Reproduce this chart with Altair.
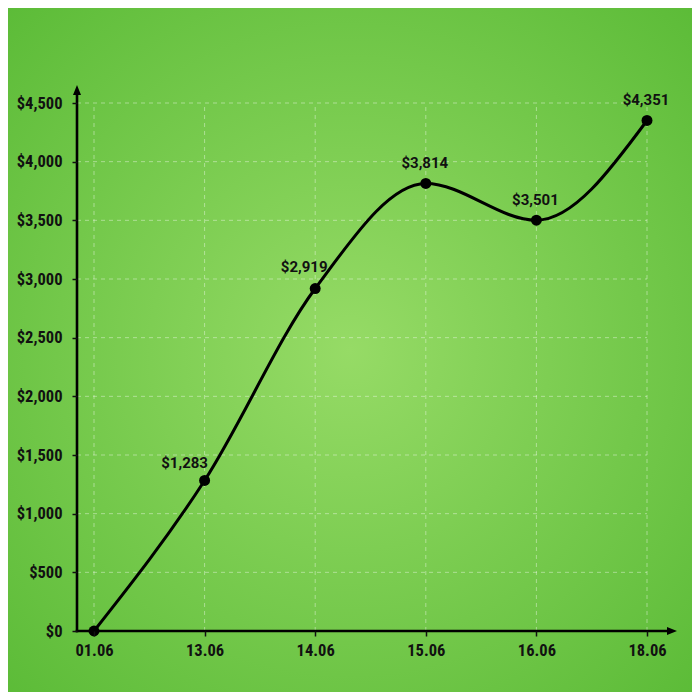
import altair as alt
import pandas as pd

dates = ["01.06", "13.06", "14.06", "15.06", "16.06", "18.06"]
values = [0, 1283, 2919, 3814, 3501, 4351]
y_ticks = [0, 500, 1000, 1500, 2000, 2500, 3000, 3500, 4000, 4500]

df = pd.DataFrame({"date": dates, "value": values})
ticks_df = pd.DataFrame({"v": y_ticks})
one = pd.DataFrame({"a": [0]})

W, H = 570, 528
PAD = {"left": 69, "top": 95, "right": 45, "bottom": 61}

AXIS_FONT = "Roboto Condensed, Liberation Sans Narrow, DejaVu Sans Condensed, Roboto"
LABEL_FONT = "Roboto"

xscale = alt.Scale(type="point", domain=dates, range=[17, W], padding=0)
yscale = alt.Scale(domain=[0, 4500], nice=False, zero=True)

x_axis = alt.Axis(
    title=None, grid=False, domain=False, ticks=True, tickSize=5, tickWidth=1.5,
    tickColor="#111111", labelFont=AXIS_FONT, labelFontSize=16.5, labelFontWeight="bold",
    labelColor="#111111", labelPadding=6, labelAngle=0, zindex=2,
)
y_axis = alt.Axis(
    title=None, grid=False, domain=False, ticks=True, tickSize=5, tickWidth=1.5,
    tickColor="#111111", labelFont=AXIS_FONT, labelFontSize=16.5, labelFontWeight="bold",
    labelColor="#111111", labelPadding=10, values=y_ticks, format="$,.0f", zindex=2,
)

X = alt.X("date:O", scale=xscale, axis=x_axis)
Y = alt.Y("value:Q", scale=yscale, axis=y_axis)

bg = alt.Chart(one).mark_rect(
    fill={
        "gradient": "radial",
        "x1": 0.5, "y1": 0.5, "r1": 0,
        "x2": 0.5, "y2": 0.5, "r2": 0.72,
        "stops": [
            {"offset": 0, "color": "#96db66"},
            {"offset": 1, "color": "#5bbb37"},
        ],
    }
).encode(
    x=alt.value(-PAD["left"]), x2=alt.value(W + PAD["right"]),
    y=alt.value(-PAD["top"]), y2=alt.value(H + PAD["bottom"]),
)

grid_style = dict(stroke="#ffffff", strokeOpacity=0.4, strokeWidth=1, strokeDash=[4, 4])

vgrid = alt.Chart(df).mark_rule(**grid_style).encode(
    x=X,
    y=alt.Y("zero:Q", scale=yscale, axis=y_axis),
    y2=alt.Y2("top:Q"),
).transform_calculate(zero="0", top="4500")

hgrid = alt.Chart(ticks_df).mark_rule(**grid_style).encode(
    y=alt.Y("v:Q", scale=yscale, axis=y_axis),
    x=alt.value(0),
    x2=alt.value(W),
)

yline = alt.Chart(one).mark_rule(color="#000000", strokeWidth=2.6).encode(
    x=alt.value(0), y=alt.value(-10), y2=alt.value(H + 1.3),
)
xline = alt.Chart(one).mark_rule(color="#000000", strokeWidth=2.6).encode(
    y=alt.value(H), x=alt.value(-1.3), x2=alt.value(592),
)
yarrow = alt.Chart(one).mark_point(
    shape="M0,-1L-0.8,1L0.8,1Z", filled=True, color="#000000", size=100, opacity=1
).encode(x=alt.value(0), y=alt.value(-13))
xarrow = alt.Chart(one).mark_point(
    shape="M1,0L-1,-0.8L-1,0.8Z", filled=True, color="#000000", size=100, opacity=1
).encode(x=alt.value(595), y=alt.value(H))

line = alt.Chart(df).mark_line(
    color="#000000", strokeWidth=3, interpolate="monotone"
).encode(x=X, y=Y)
pts = alt.Chart(df).mark_circle(color="#000000", size=120, opacity=1).encode(x=X, y=Y)


def label_layer(filter_expr, dx, dy):
    return alt.Chart(df).transform_filter(filter_expr).mark_text(
        font=LABEL_FONT, fontSize=15, fontWeight="bold", color="#111111",
        align="center", baseline="alphabetic", dy=dy, dx=dx,
    ).encode(
        x=X, y=Y,
        text=alt.Text("value:Q", format="$,.0f"),
    )


lab1 = label_layer(alt.datum.date == "13.06", -20, -12)
lab2 = label_layer(alt.datum.date == "14.06", -11, -17)
lab3 = label_layer(
    (alt.datum.date != "13.06") & (alt.datum.date != "14.06") & (alt.datum.value > 0), -1, -15
)

chart = alt.layer(
    bg, vgrid, hgrid, yline, xline, yarrow, xarrow, line, pts, lab1, lab2, lab3
).properties(
    width=W, height=H,
    autosize=alt.AutoSizeParams(type="none"),
    padding=PAD,
    background="#5dbd3a",
).configure_view(stroke=None)

chart.save("out.html", embed_options={"renderer": "svg", "actions": False})
